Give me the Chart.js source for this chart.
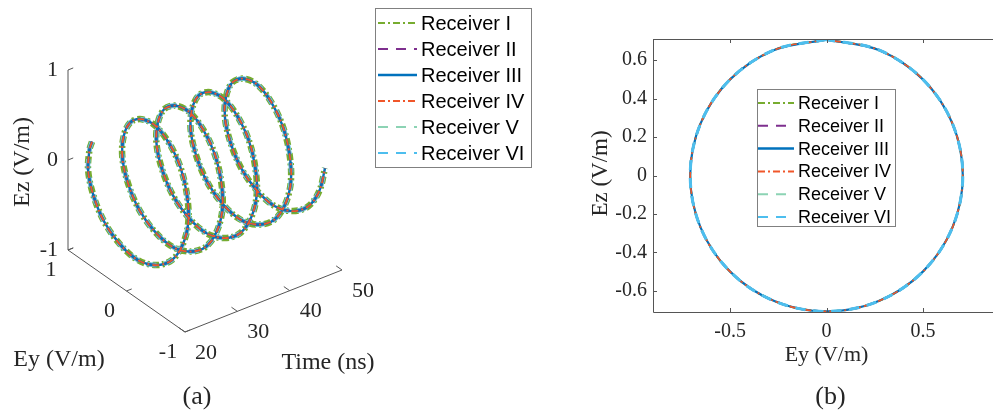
<!DOCTYPE html>
<html>
<head>
<meta charset="utf-8">
<script src="https://cdn.jsdelivr.net/npm/chart.js@4"></script>
<style>
  html, body { margin: 0; padding: 0; background: #fff; overflow: hidden; }
  #wrap { position: relative; width: 993px; height: 412px; overflow: hidden; }
  #helixChart { position: absolute; left: 0; top: 0; }
  #circleChart { position: absolute; left: 560px; top: 0; }
</style>
</head>
<body>
<div id="wrap">
  <canvas id="helixChart" width="560" height="412"></canvas>
  <canvas id="circleChart" width="450" height="412"></canvas>
</div>
<script>
const receivers = ["Receiver I", "Receiver II", "Receiver III", "Receiver IV", "Receiver V", "Receiver VI"];

const helixTime = [20.00, 20.20, 20.61, 21.01, 21.42, 21.83, 22.24, 22.65, 23.06, 23.46, 23.87, 24.28, 24.69, 25.10, 25.50,
    25.91, 26.32, 26.73, 27.14, 27.54, 27.95, 28.36, 28.77, 29.18, 29.59, 29.99, 30.40, 30.81, 31.22, 31.63, 32.04, 32.44,
    32.85, 33.26, 33.67, 34.08, 34.49, 34.89, 35.30, 35.71, 36.12, 36.53, 36.94, 37.34, 37.75, 38.16, 38.57, 38.98, 39.39,
    39.79, 40.20, 40.61, 41.02, 41.43, 41.84, 42.24, 42.65, 43.06, 43.47, 43.88, 44.28, 44.69, 45.10, 45.51, 45.92, 46.33,
    46.73, 47.14, 47.55, 47.96, 48.37, 48.78, 49.18, 49.59, 50.00];
const helixEy = [0.59,
    0.65, 0.71, 0.65, 0.5, 0.27, 0, -0.27, -0.5, -0.65, -0.71, -0.65, -0.5, -0.27, 0, 0.27, 0.5,
    0.65, 0.71, 0.65, 0.5, 0.27, 0, -0.27, -0.5, -0.65, -0.71, -0.65, -0.5, -0.27, 0, 0.27, 0.5,
    0.65, 0.71, 0.65, 0.5, 0.27, 0, -0.27, -0.5, -0.65, -0.71, -0.65, -0.5, -0.27, 0, 0.27, 0.5,
    0.65, 0.71, 0.65, 0.5, 0.27, 0, -0.27, -0.5, -0.65, -0.71, -0.65, -0.5, -0.27, 0, 0.27, 0.5,
    0.65, 0.71, 0.65, 0.5, 0.27, 0, -0.27, -0.5, -0.65, -0.71];
const helixEz = [0.39,
    0.27, 0, -0.27, -0.5, -0.65, -0.71, -0.65, -0.5, -0.27, 0, 0.27, 0.5, 0.65, 0.71, 0.65, 0.5,
    0.27, 0, -0.27, -0.5, -0.65, -0.71, -0.65, -0.5, -0.27, 0, 0.27, 0.5, 0.65, 0.71, 0.65, 0.5,
    0.27, 0, -0.27, -0.5, -0.65, -0.71, -0.65, -0.5, -0.27, 0, 0.27, 0.5, 0.65, 0.71, 0.65, 0.5,
    0.27, 0, -0.27, -0.5, -0.65, -0.71, -0.65, -0.5, -0.27, 0, 0.27, 0.5, 0.65, 0.71, 0.65, 0.5,
    0.27, 0, -0.27, -0.5, -0.65, -0.71, -0.65, -0.5, -0.27, 0];

const circleEy = [0, -0.271, -0.5, -0.653, -0.707, -0.653, -0.5, -0.271, 0, 0.271, 0.5, 0.653, 0.707, 0.653, 0.5, 0.271, 0];
const circleEz = [0.707, 0.653, 0.5, 0.271, 0, -0.271, -0.5, -0.653, -0.707, -0.653, -0.5, -0.271, 0, 0.271, 0.5, 0.653, 0.707];

const timeTicks = [20, 30, 40, 50];
const eyTicks3d = [-1, 0, 1];
const ezTicks3d = [-1, 0, 1];
const eyTicks = [-0.5, 0, 0.5];
const ezTicks = [-0.6, -0.4, -0.2, 0, 0.2, 0.4, 0.6];

const lineColors = ["#77AC30", "#7E2F8E", "#0072BD", "#F0562A", "#8CD3B4", "#4DBEEE"];
const lineDashes = [[7, 3, 2, 3], [10, 8], [], [7, 3, 2, 3], [10, 8], [10, 8]];
const widthsA = [6.5, 2.6, 2.4, 1.8, 3.8, 4.6];
const widthsB = [2, 2.4, 2.2, 1.6, 2.5, 3];
// lower number is drawn on top
const ordersA = [6, 3, 2, 1, 4, 5];
const ordersB = [6, 5, 4, 3, 2, 1];

const textColor = "#262626";
const axisColor = "#555555";
const serif = "'Liberation Serif', 'Times New Roman', serif";
const sans = "'Liberation Sans', Arial, sans-serif";

// 3D view: span of each axis on the page plane, origin at (t=20, Ey=-1, Ez=-1)
const tSpan = [157, 62];
const eySpan = [-117, 82];
const ezSpan = [0, 180];
function project(t, ey, ez){
    const a = (t - 20) / 30, b = (ey + 1) / 2, c = (ez + 1) / 2;
    return {
        x: a * tSpan[0] + b * eySpan[0] + c * ezSpan[0],
        y: a * tSpan[1] + b * eySpan[1] + c * ezSpan[1]
    };
}

function drawLegend(ctx, box, rows){
    ctx.save();
    ctx.fillStyle = "#fff";
    ctx.fillRect(box.x0, box.y0, box.x1 - box.x0, box.y1 - box.y0);
    ctx.strokeStyle = "#808080";
    ctx.lineWidth = 1;
    ctx.strokeRect(box.x0 + 0.5, box.y0 + 0.5, box.x1 - box.x0, box.y1 - box.y0);
    ctx.font = box.font;
    ctx.textBaseline = "middle";
    ctx.textAlign = "left";
    rows.forEach((name, i) => {
        const y = box.firstY + i * box.gap;
        ctx.strokeStyle = lineColors[i];
        ctx.lineWidth = i === 2 ? 2.5 : 2;
        ctx.setLineDash(lineDashes[i]);
        ctx.beginPath();
        ctx.moveTo(box.lineX0, y);
        ctx.lineTo(box.lineX1, y);
        ctx.stroke();
        ctx.setLineDash([]);
        ctx.fillStyle = "#000";
        ctx.fillText(name, box.textX, y + 1);
    });
    ctx.restore();
}

const helixAxes = {
    id: "helixAxes",
    beforeDatasetsDraw(chart){
        const ctx = chart.ctx;
        const xs = chart.scales.x, ys = chart.scales.y;
        const px = (p) => [xs.getPixelForValue(p.x), ys.getPixelForValue(p.y)];
        const seg = (p, q) => {
            const a = px(p), b = px(q);
            ctx.beginPath();
            ctx.moveTo(a[0], a[1]);
            ctx.lineTo(b[0], b[1]);
            ctx.stroke();
        };
        ctx.save();
        ctx.strokeStyle = axisColor;
        ctx.lineWidth = 1;
        seg(project(20, 1, -1), project(20, 1, 1));
        seg(project(20, 1, -1), project(20, -1, -1));
        seg(project(20, -1, -1), project(50, -1, -1));
        ezTicks3d.forEach(v => seg(project(20, 1, v), project(21, 1, v)));
        eyTicks3d.forEach(v => seg(project(20, v, -1), project(21, v, -1)));
        timeTicks.forEach(v => seg(project(v, -1, -1), project(v, -0.9, -1)));

        ctx.fillStyle = textColor;
        ctx.font = "22px " + serif;
        ctx.textBaseline = "middle";
        ctx.textAlign = "right";
        ezTicks3d.forEach(v => {
            const p = px(project(20, 1, v));
            ctx.fillText(String(v), p[0] - 10, p[1]);
        });
        ctx.textAlign = "center";
        eyTicks3d.forEach(v => {
            const p = px(project(20, v, -1));
            ctx.fillText(String(v), p[0] - 17, p[1] + 20);
        });
        timeTicks.forEach(v => {
            const p = px(project(v, -1, -1));
            ctx.fillText(String(v), p[0] + 21, p[1] + 21);
        });

        ctx.font = "24px " + serif;
        const tl = px(project(50, -1, -1));
        ctx.fillText("Time (ns)", tl[0] - 14, tl[1] + 93);
        const el = px(project(20, 1, -1));
        ctx.fillText("Ey (V/m)", el[0] - 9, el[1] + 110);
        ctx.save();
        ctx.translate(23, 162);
        ctx.rotate(-Math.PI / 2);
        ctx.fillText("Ez (V/m)", 0, 0);
        ctx.restore();
        ctx.font = "26px " + serif;
        ctx.fillText("(a)", 197, 397);
        ctx.restore();
    },
    afterDraw(chart){
        drawLegend(chart.ctx, {
            x0: 375, y0: 8, x1: 531, y1: 167,
            firstY: 23, gap: 26,
            lineX0: 378, lineX1: 417, textX: 421,
            font: "20px " + sans
        }, receivers);
    }
};

const circleAxes = {
    id: "circleAxes",
    afterDatasetsDraw(chart){
        const ctx = chart.ctx;
        const xs = chart.scales.x, ys = chart.scales.y;
        const a = chart.chartArea;
        ctx.save();
        ctx.strokeStyle = axisColor;
        ctx.lineWidth = 1;
        ctx.beginPath();
        ctx.moveTo(a.left + 0.5, a.top + 0.5);
        ctx.lineTo(a.right, a.top + 0.5);
        ctx.moveTo(a.left + 0.5, a.top);
        ctx.lineTo(a.left + 0.5, a.bottom + 0.5);
        ctx.lineTo(a.right, a.bottom + 0.5);
        ctx.moveTo(a.right - 0.5, a.top);
        ctx.lineTo(a.right - 0.5, a.bottom);
        eyTicks.forEach(v => {
            const x = Math.round(xs.getPixelForValue(v)) + 0.5;
            ctx.moveTo(x, a.bottom);
            ctx.lineTo(x, a.bottom - 4);
            ctx.moveTo(x, a.top);
            ctx.lineTo(x, a.top + 4);
        });
        ezTicks.forEach(v => {
            const y = Math.round(ys.getPixelForValue(v)) + 0.5;
            ctx.moveTo(a.left, y);
            ctx.lineTo(a.left + 4, y);
            ctx.moveTo(a.right, y);
            ctx.lineTo(a.right - 4, y);
        });
        ctx.stroke();

        ctx.fillStyle = textColor;
        ctx.font = "20px " + serif;
        ctx.textBaseline = "middle";
        ctx.textAlign = "center";
        eyTicks.forEach(v => ctx.fillText(String(v), xs.getPixelForValue(v), a.bottom + 20));
        ctx.textAlign = "right";
        ezTicks.forEach(v => ctx.fillText(String(v), a.left - 6, ys.getPixelForValue(v)));

        ctx.textAlign = "center";
        ctx.font = "22px " + serif;
        ctx.fillText("Ey (V/m)", xs.getPixelForValue(0), a.bottom + 43);
        ctx.save();
        ctx.translate(41, (a.top + a.bottom) / 2 - 2);
        ctx.rotate(-Math.PI / 2);
        ctx.font = "23px " + serif;
        ctx.fillText("Ez (V/m)", 0, 0);
        ctx.restore();
        ctx.font = "26px " + serif;
        ctx.fillText("(b)", xs.getPixelForValue(0) + 4, 397);
        ctx.restore();
    },
    afterDraw(chart){
        drawLegend(chart.ctx, {
            x0: 197, y0: 89, x1: 335, y1: 226,
            firstY: 103, gap: 22.8,
            lineX0: 198, lineX1: 234, textX: 238,
            font: "18px " + sans
        }, receivers);
    }
};

const hiddenScale = (min, max) => ({ type: "linear", display: false, min: min, max: max });

function receiverDataset(name, r, points, widths, orders){
    return {
        label: name,
        data: points,
        order: orders[r],
        tension: 0.34,
        borderColor: lineColors[r],
        borderDash: lineDashes[r],
        borderWidth: widths[r],
        pointRadius: 0,
        fill: false
    };
}

new Chart(document.getElementById("helixChart"), {
    type: "line",
    data: {
        datasets: receivers.map((name, r) => receiverDataset(name, r,
            helixTime.map((t, i) => project(t, helixEy[i], helixEz[i])), widthsA, ordersA))
    },
    options: {
        responsive: false,
        animation: false,
        devicePixelRatio: 1,
        layout: { padding: 0 },
        plugins: { legend: { display: false }, tooltip: { enabled: false } },
        scales: {
            x: hiddenScale(-185, 375),
            y: hiddenScale(-80, 332)
        }
    },
    plugins: [helixAxes]
});

new Chart(document.getElementById("circleChart"), {
    type: "line",
    data: {
        datasets: receivers.map((name, r) => receiverDataset(name, r,
            circleEy.map((v, i) => ({ x: v, y: circleEz[i] })), widthsB, ordersB))
    },
    options: {
        responsive: false,
        animation: false,
        devicePixelRatio: 1,
        layout: { padding: { left: 93, top: 39, right: 10, bottom: 100 } },
        plugins: { legend: { display: false }, tooltip: { enabled: false } },
        scales: {
            x: hiddenScale(-0.9, 0.9),
            y: hiddenScale(-0.71, 0.71)
        }
    },
    plugins: [circleAxes]
});
</script>
</body>
</html>
